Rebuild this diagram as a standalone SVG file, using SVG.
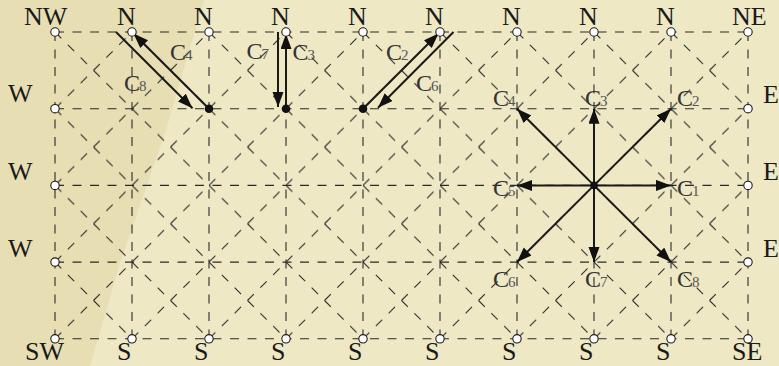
<svg xmlns="http://www.w3.org/2000/svg" width="779" height="366" viewBox="0 0 779 366">
<style>
.grid{fill:none;stroke:#2a2a2a;stroke-width:1.1;stroke-dasharray:9 8.5}
.diag{fill:none;stroke:#2a2a2a;stroke-width:1.1;stroke-dasharray:9 9.11}
.open{fill:#fff;stroke:#1a1a1a;stroke-width:1.1}
.dot{fill:#111}
.arr{fill:none;stroke:#1a1a1a;stroke-width:2;marker-end:url(#ah)}
.lbl{font-family:"Liberation Serif","Times New Roman",serif;font-size:26px;fill:#1a1a1a}
.cl{font-family:"Liberation Serif","Times New Roman",serif;font-size:24px;fill:#333}
.sub{font-size:15px;fill:#555}
</style>
<defs>
<marker id="ah" markerUnits="userSpaceOnUse" markerWidth="17" markerHeight="12" refX="15" refY="5.5" orient="auto">
<path d="M0,0 L15,5.5 L0,11 Z" fill="#111"/>
</marker>
<pattern id="dg" patternUnits="userSpaceOnUse" x="55" y="32" width="77" height="76.7">
<path class="diag" d="M0,0 L77,76.7 M0,76.7 L77,0"/>
</pattern>
</defs>
<g id="background">
<rect width="779" height="366" fill="#EEE8C5"/>
<path d="M0,0 L204,0 L166,130 L120,263 L90,366 L0,366 Z" fill="#E7DEB3"/>
</g>
<g id="grid">
<rect x="55" y="32" width="693" height="306.8" fill="url(#dg)"/>
<path class="grid" d="M55,32 H748 M55,108.7 H748 M55,185.4 H748 M55,262.1 H748 M55,338.8 H748"/>
<path class="grid" d="M55,32 V338.8 M132,32 V338.8 M209,32 V338.8 M286,32 V338.8 M363,32 V338.8 M440,32 V338.8 M517,32 V338.8 M594,32 V338.8 M671,32 V338.8 M748,32 V338.8"/>
</g>
<g id="connectors">
<path class="arr" d="M209,108.7 L133.5,33.5"/>
<path class="arr" d="M116,32 L192.5,108.2"/>
<path class="arr" d="M286,108.7 L286,34"/>
<path class="arr" d="M278,32 L278,107"/>
<path class="arr" d="M363,108.7 L438.5,33.5"/>
<path class="arr" d="M453.5,32 L378,107.8"/>
<path class="arr" d="M594,185.4 L671,185.4"/>
<path class="arr" d="M594,185.4 L671,108.7"/>
<path class="arr" d="M594,185.4 L594,108.7"/>
<path class="arr" d="M594,185.4 L517,108.7"/>
<path class="arr" d="M594,185.4 L517,185.4"/>
<path class="arr" d="M594,185.4 L517,262.1"/>
<path class="arr" d="M594,185.4 L594,262.1"/>
<path class="arr" d="M594,185.4 L671,262.1"/>
</g>
<g id="nodes">
<g id="top-nodes">
<circle class="open" cx="55" cy="32" r="4.2"/><circle class="open" cx="132" cy="32" r="4.2"/><circle class="open" cx="209" cy="32" r="4.2"/><circle class="open" cx="286" cy="32" r="4.2"/><circle class="open" cx="363" cy="32" r="4.2"/><circle class="open" cx="440" cy="32" r="4.2"/><circle class="open" cx="517" cy="32" r="4.2"/><circle class="open" cx="594" cy="32" r="4.2"/><circle class="open" cx="671" cy="32" r="4.2"/><circle class="open" cx="748" cy="32" r="4.2"/>
</g>
<g id="bottom-nodes">
<circle class="open" cx="55" cy="338.8" r="4.2"/><circle class="open" cx="132" cy="338.8" r="4.2"/><circle class="open" cx="209" cy="338.8" r="4.2"/><circle class="open" cx="286" cy="338.8" r="4.2"/><circle class="open" cx="363" cy="338.8" r="4.2"/><circle class="open" cx="440" cy="338.8" r="4.2"/><circle class="open" cx="517" cy="338.8" r="4.2"/><circle class="open" cx="594" cy="338.8" r="4.2"/><circle class="open" cx="671" cy="338.8" r="4.2"/><circle class="open" cx="748" cy="338.8" r="4.2"/>
</g>
<g id="side-nodes">
<circle class="open" cx="55" cy="108.7" r="4.2"/><circle class="open" cx="55" cy="185.4" r="4.2"/><circle class="open" cx="55" cy="262.1" r="4.2"/>
<circle class="open" cx="748" cy="108.7" r="4.2"/><circle class="open" cx="748" cy="185.4" r="4.2"/><circle class="open" cx="748" cy="262.1" r="4.2"/>
</g>
<g id="centres">
<circle class="dot" cx="209" cy="108.7" r="4.3"/><circle class="dot" cx="286" cy="108.7" r="4.3"/><circle class="dot" cx="363" cy="108.7" r="4.3"/><circle class="dot" cx="594" cy="185.4" r="3.8"/>
</g>
</g>
<g id="direction-labels">
<text class="lbl" x="24" y="25">NW</text>
<text class="lbl" x="117" y="25">N</text><text class="lbl" x="194" y="25">N</text><text class="lbl" x="271" y="25">N</text><text class="lbl" x="348" y="25">N</text><text class="lbl" x="425" y="25">N</text><text class="lbl" x="502" y="25">N</text><text class="lbl" x="579" y="25">N</text><text class="lbl" x="656" y="25">N</text>
<text class="lbl" x="732" y="25">NE</text>
<text class="lbl" x="8" y="102">W</text><text class="lbl" x="8" y="180">W</text><text class="lbl" x="8" y="257">W</text>
<text class="lbl" x="763" y="103">E</text><text class="lbl" x="763" y="180">E</text><text class="lbl" x="763" y="257">E</text>
<text class="lbl" x="25" y="360">SW</text>
<text class="lbl" x="117" y="360">S</text><text class="lbl" x="194" y="360">S</text><text class="lbl" x="271" y="360">S</text><text class="lbl" x="348" y="360">S</text><text class="lbl" x="425" y="360">S</text><text class="lbl" x="502" y="360">S</text><text class="lbl" x="579" y="360">S</text><text class="lbl" x="656" y="360">S</text>
<text class="lbl" x="732" y="360">SE</text>
</g>
<g id="c-labels">
<text class="cl" x="170" y="60">C<tspan class="sub" dx="-1">4</tspan></text>
<text class="cl" x="124" y="90.5">C<tspan class="sub" dx="-1">8</tspan></text>
<text class="cl" x="246.5" y="58.5">C<tspan class="sub" dx="-1">7</tspan></text>
<text class="cl" x="292.5" y="60">C<tspan class="sub" dx="-1">3</tspan></text>
<text class="cl" x="386" y="59.5">C<tspan class="sub" dx="-1">2</tspan></text>
<text class="cl" x="416" y="90.5">C<tspan class="sub" dx="-1">6</tspan></text>
<text class="cl" x="493" y="106">C<tspan class="sub" dx="-1">4</tspan></text>
<text class="cl" x="585" y="106">C<tspan class="sub" dx="-1">3</tspan></text>
<text class="cl" x="677" y="106">C<tspan class="sub" dx="-1">2</tspan></text>
<text class="cl" x="493" y="196">C<tspan class="sub" dx="-1">5</tspan></text>
<text class="cl" x="677" y="196">C<tspan class="sub" dx="-1">1</tspan></text>
<text class="cl" x="493" y="287">C<tspan class="sub" dx="-1">6</tspan></text>
<text class="cl" x="585" y="287">C<tspan class="sub" dx="-1">7</tspan></text>
<text class="cl" x="677" y="287">C<tspan class="sub" dx="-1">8</tspan></text>
</g>
</svg>
